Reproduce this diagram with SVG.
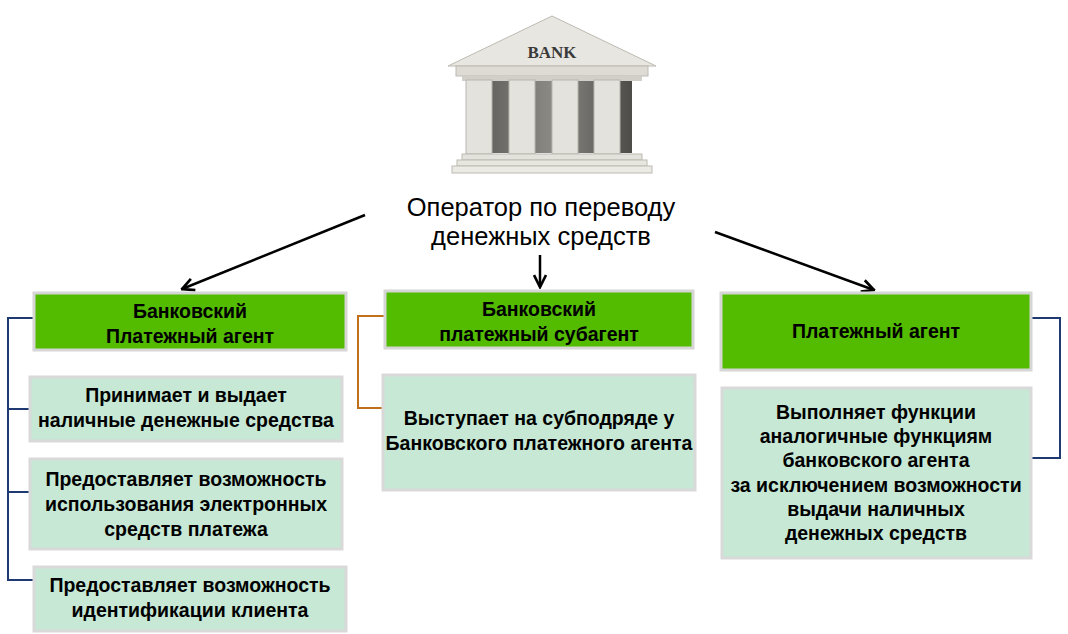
<svg xmlns="http://www.w3.org/2000/svg" width="1068" height="634" viewBox="0 0 1068 634">
<defs>
<style>
.g{fill:#53BB00;stroke:#D6D6D6;stroke-width:3}
.l{fill:#C6E8D5;stroke:#D9D9D9;stroke-width:3}
.t{font-family:"Liberation Sans",Arial,sans-serif;font-weight:bold;font-size:19.5px;fill:#000;text-anchor:middle}
.h{font-family:"Liberation Sans",Arial,sans-serif;font-size:25.5px;fill:#000;text-anchor:middle}
.a{stroke:#000;stroke-width:2.5;fill:none;marker-end:url(#ar)}
.col{fill:#E4E2DC;stroke:#B8B5AD}
</style>
<marker id="ar" viewBox="0 0 10 10" refX="9" refY="5" markerWidth="6" markerHeight="6" orient="auto"><path d="M1,1L9,5L1,9" fill="none" stroke="#000" stroke-width="1.8"/></marker>
<linearGradient id="dk" x1="0" x2="1"><stop offset="0" stop-color="#5a5955"/><stop offset="0.5" stop-color="#8b8a85"/><stop offset="1" stop-color="#4d4c48"/></linearGradient>
</defs>
<rect width="1068" height="634" fill="#fff"/>
<g id="bank">
<polygon points="448,66 552,16 656,66" fill="#E8E6E0" stroke="#BDBAB2"/>
<text x="552" y="58" font-family="Liberation Serif,serif" font-weight="bold" font-size="17" fill="#3a3a3a" text-anchor="middle">BANK</text>
<rect x="456" y="66" width="192" height="10" fill="#DEDBD4" stroke="#BDBAB2"/>
<rect x="462" y="76" width="180" height="5" fill="#D2CFC8"/>
<rect x="472" y="81" width="160" height="72" fill="url(#dk)"/>
<rect x="466" y="80" width="26" height="74" class="col"/>
<rect x="509" y="80" width="26" height="74" class="col"/>
<rect x="552" y="80" width="26" height="74" class="col"/>
<rect x="594" y="80" width="26" height="74" class="col"/>
<rect x="462" y="154" width="180" height="6" fill="#E4E2DC" stroke="#BDBAB2"/>
<rect x="457" y="160" width="190" height="6" fill="#E8E6E0" stroke="#BDBAB2"/>
<rect x="452" y="166" width="200" height="7" fill="#ECEAE4" stroke="#BDBAB2"/>
</g>
<g id="title"><text class="h" x="541" y="216">Оператор по переводу</text><text class="h" x="541" y="245">денежных средств</text></g>
<g id="connectors">
<line class="a" x1="365" y1="215" x2="182" y2="289"/>
<line class="a" x1="540" y1="255" x2="540" y2="287"/>
<line class="a" x1="715" y1="232" x2="874" y2="290"/>
<path d="M34,318H8V580H34M8,409H30M8,492H30" fill="none" stroke="#1F3A73" stroke-width="2"/>
<path d="M385,316H358V408H383" fill="none" stroke="#C0701A" stroke-width="2"/>
<path d="M1031,318H1060V458H1031" fill="none" stroke="#1F3A73" stroke-width="2"/>
</g>
<g id="n1"><rect class="g" x="34" y="293" width="312" height="57"/><text class="t" x="190" y="318">Банковский</text><text class="t" x="190" y="343">Платежный агент</text></g>
<g id="n2"><rect class="g" x="385" y="291" width="308" height="57"/><text class="t" x="539" y="316">Банковский</text><text class="t" x="539" y="341">платежный субагент</text></g>
<g id="n3"><rect class="g" x="721" y="293" width="310" height="77"/><text class="t" x="876" y="338">Платежный агент</text></g>
<g id="n4"><rect class="l" x="30" y="377" width="312" height="64"/><text class="t" x="186" y="402">Принимает и выдает</text><text class="t" x="186" y="427">наличные денежные средства</text></g>
<g id="n5"><rect class="l" x="30" y="459" width="312" height="90"/><text class="t" x="186" y="486">Предоставляет возможность</text><text class="t" x="186" y="511">использования электронных</text><text class="t" x="186" y="536">средств платежа</text></g>
<g id="n6"><rect class="l" x="34" y="567" width="312" height="64"/><text class="t" x="190" y="592">Предоставляет возможность</text><text class="t" x="190" y="617">идентификации клиента</text></g>
<g id="n7"><rect class="l" x="383" y="375" width="312" height="115"/><text class="t" x="539" y="425">Выступает на субподряде у</text><text class="t" x="539" y="450">Банковского платежного агента</text></g>
<g id="n8"><rect class="l" x="722" y="388" width="309" height="170"/><text class="t" x="876" y="419">Выполняет функции</text><text class="t" x="876" y="443">аналогичные функциям</text><text class="t" x="876" y="467">банковского агента</text><text class="t" x="876" y="492">за исключением возможности</text><text class="t" x="876" y="516">выдачи наличных</text><text class="t" x="876" y="540">денежных средств</text></g>
</svg>
